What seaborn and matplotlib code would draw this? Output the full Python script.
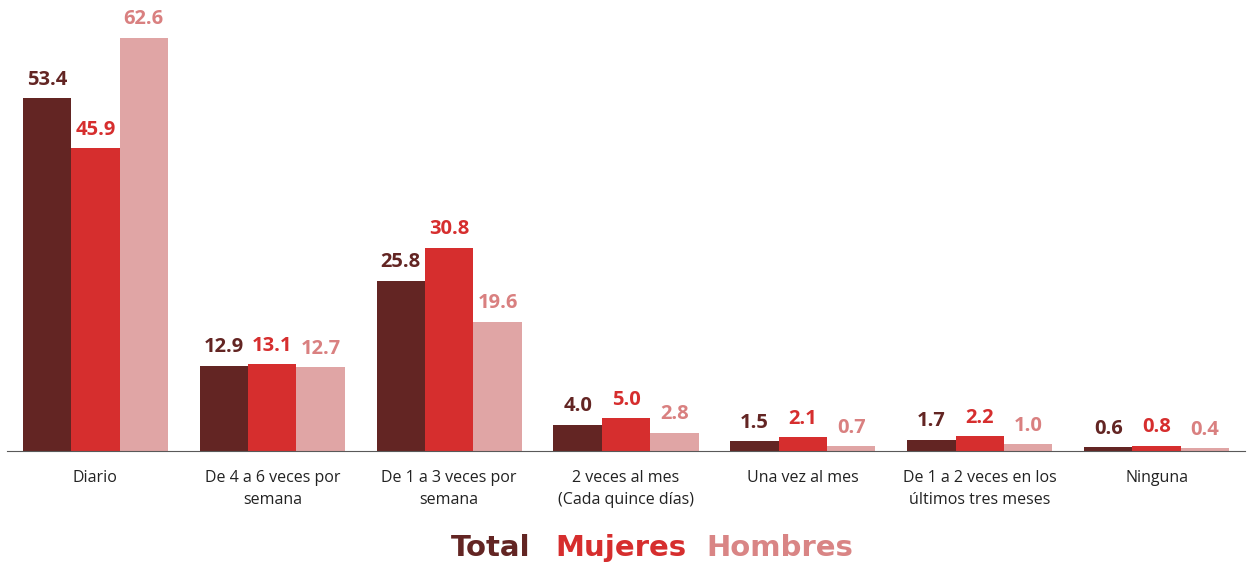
import matplotlib
matplotlib.use("Agg")
import matplotlib.pyplot as plt
import seaborn as sns
import pandas as pd

# datos
categorias = ["Diario", "De 4 a 6 veces por\nsemana", "De 1 a 3 veces por\nsemana",
              "2 veces al mes\n(Cada quince días)", "Una vez al mes",
              "De 1 a 2 veces en los\núltimos tres meses", "Ninguna"]
total = [53.4, 12.9, 25.8, 4.0, 1.5, 1.7, 0.6]
mujeres = [45.9, 13.1, 30.8, 5.0, 2.1, 2.2, 0.8]
hombres = [62.6, 12.7, 19.6, 2.8, 0.7, 1.0, 0.4]
series = ["Total", "Mujeres", "Hombres"]

colores_barra = ["#632523", "#D62E2E", "#E0A5A5"]
colores_texto = ["#632523", "#D62E2E", "#D98080"]

df = pd.DataFrame({
    "categoria": categorias * 3,
    "serie": ["Total"] * 7 + ["Mujeres"] * 7 + ["Hombres"] * 7,
    "valor": total + mujeres + hombres,
})

sns.set_style("white")
plt.rcParams['font.family'] = ['Open Sans', 'DejaVu Sans']

fig = plt.figure(figsize=(12.49, 5.65), dpi=100)
ax = fig.add_axes([7 / 1249, 114 / 565, 1238 / 1249, 451 / 565])

sns.barplot(data=df, x="categoria", y="valor", hue="serie", hue_order=series,
            palette=colores_barra, width=0.82, gap=0, ax=ax, legend=False,
            saturation=1, linewidth=0)

# etiquetas de valor
for cont, col in zip(ax.containers, colores_texto):
    ax.bar_label(cont, fmt="%.1f", padding=6, color=col, fontsize=14.5,
                 fontweight="bold")

ax.set_ylim(0, 68.3)
ax.set_xlim(-0.5, 6.5)
ax.set_ylabel("")
ax.set_xlabel("")
ax.set_yticks([])
for s in ["top", "right", "left"]:
    ax.spines[s].set_visible(False)
ax.spines["bottom"].set_color("#595959")

# ticks en los limites de categorias
ax.set_xticks([i - 0.5 for i in range(8)], minor=False)
ax.set_xticklabels([])
ax.tick_params(axis="x", which="major", length=6, color="#595959", direction="out")
ax.set_xticks(range(7), minor=True)
ax.set_xticklabels(categorias, minor=True, fontsize=11.5, color="#222222",
                   linespacing=1.45, va="top")
ax.tick_params(axis="x", which="minor", length=0, pad=14)

# leyenda como texto
xs = [491 / 1249, 621 / 1249, 780 / 1249]
for x, s, c in zip(xs, series, ["#632523", "#D62E2E", "#D98585"]):
    fig.text(x, 1 - 548 / 565, s, fontsize=21, fontweight="heavy",
             color=c, va="center", ha="center", family=["DejaVu Sans"])

fig.savefig("out.png", dpi=100)
